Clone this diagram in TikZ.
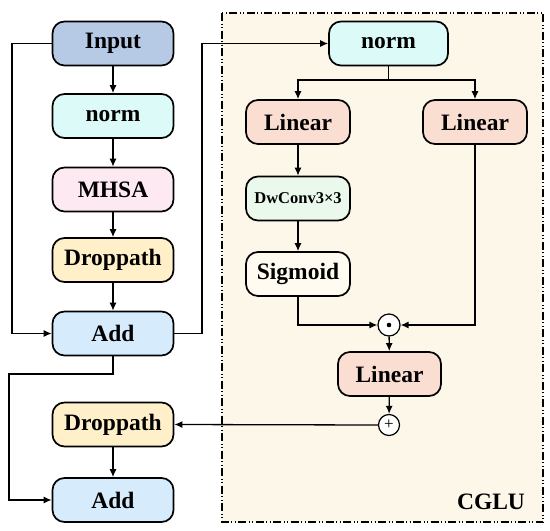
\documentclass[tikz,border=0pt]{standalone}
\usepackage{fontspec}
\setmainfont{Liberation Serif}
\usetikzlibrary{arrows.meta}
\definecolor{cInput}{HTML}{B6CAE6}
\definecolor{cNorm}{HTML}{DCFBF8}
\definecolor{cMhsa}{HTML}{FDE9F1}
\definecolor{cDrop}{HTML}{FFF0C9}
\definecolor{cAdd}{HTML}{D6ECFC}
\definecolor{cLin}{HTML}{FBDED2}
\definecolor{cDw}{HTML}{EBF8EC}
\definecolor{cSig}{HTML}{FFFBF0}
\definecolor{cBg}{HTML}{FDF7EA}
\tikzset{
  blk/.style={draw=black, line width=1.7pt, rounded corners=12pt, minimum height=44pt,
     inner sep=0pt, font=\fontsize{23.5}{25}\selectfont\bfseries},
  wide/.style={blk, minimum width=121pt},
  narrow/.style={blk, minimum width=104pt},
  opc/.style={draw=black, line width=1.2pt, circle, fill=white, minimum size=22pt, inner sep=0pt},
  arr/.style={line width=1.3pt, -{Latex[length=8pt,width=7pt]}},
  ln/.style={line width=1.3pt},
}
\begin{document}
\begin{tikzpicture}[x=1pt,y=-1pt]
\useasboundingbox (0,0) rectangle (550,531);
\fill[white] (0,0) rectangle (550,531);
% CGLU frame
\draw[fill=cBg, line width=1.2pt, dash pattern=on 8pt off 2.5pt on 1pt off 2.5pt on 1pt off 2.5pt]
  (222,13) rectangle (543,522);
\node[font=\fontsize{23.5}{25}\selectfont\bfseries] (cglu) at (491,502) {CGLU};
% left column
\node[wide, fill=cInput] (inp) at (113,43.5) {Input};
\node[wide, fill=cNorm] (n1) at (113,116) {norm};
\node[wide, fill=cMhsa] (mh) at (113,189.5) {MHSA};
\node[wide, fill=cDrop] (dp1) at (113,260) {Droppath};
\node[wide, fill=cAdd] (add1) at (113,333.5) {Add};
\node[wide, fill=cDrop] (dp2) at (113,424.5) {Droppath};
\node[wide, fill=cAdd] (add2) at (113,500) {Add};
% CGLU
\node[blk, minimum width=119pt, fill=cNorm] (cn) at (388.5,43.5) {norm};
\node[narrow, fill=cLin] (l1) at (298,122) {Linear};
\node[narrow, fill=cLin] (l2) at (475,122) {Linear};
\node[narrow, fill=cDw, font=\fontsize{16.5}{18}\selectfont\bfseries] (dw) at (298,198.5) {DwConv3×3};
\node[narrow, fill=cSig] (sg) at (298,274) {Sigmoid};
\node[opc] (od) at (389,325) {};
\fill (od) circle (2.3pt);
\node[narrow, minimum width=103pt, fill=cLin] (l3) at (389.5,374) {Linear};
\node[opc, minimum size=21pt, font=\fontsize{17}{17}\selectfont] (op) at (389,425) {+};
% connectors left
\draw[arr] (inp) -- (n1);
\draw[arr] (n1) -- (mh);
\draw[arr] (mh) -- (dp1);
\draw[arr] (dp1) -- (add1);
\draw[arr] (dp2) -- (add2);
\coordinate (sk1) at (12,43.5);
\draw[arr] (inp.west) -- (sk1) |- (add1.west);
\coordinate (sk2) at (202,333.5);
\draw[arr] (add1.east) -- (sk2) |- (cn.west);
\coordinate (sk3) at (9,374);
\draw[arr] (add1.south) |- (sk3) |- (add2.west);
% connectors CGLU
\coordinate (br) at (388.5,80);
\draw[ln] (cn.south) -- (br);
\draw[arr] (br) -| (l1.north);
\draw[arr] (br) -| (l2.north);
\draw[arr] (l1) -- (dw);
\draw[arr] (dw) -- (sg);
\draw[arr] (sg.south) |- (od.west);
\draw[arr] (l2.south) |- (od.east);
\draw[arr] (od) -- (l3);
\draw[arr] (l3) -- (op);
\draw[arr] (op.west) -- (dp2.east);
\end{tikzpicture}
\end{document}
